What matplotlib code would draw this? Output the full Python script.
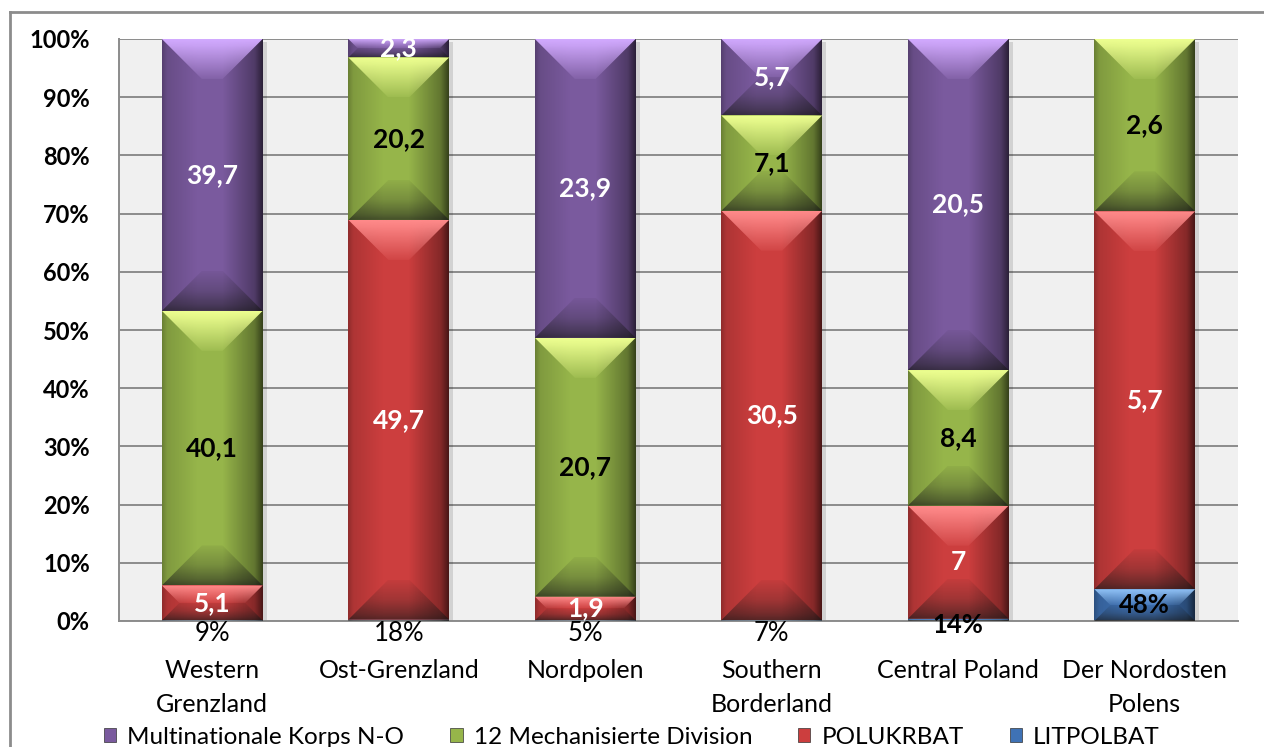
import numpy as np
import matplotlib.pyplot as plt
from matplotlib.patches import Polygon
from matplotlib.lines import Line2D
from matplotlib.colors import to_rgb

# categories and series (raw values, chart shows each bar as 100%)
categories = ["Western\nGrenzland", "Ost-Grenzland", "Nordpolen",
              "Southern\nBorderland", "Central Poland", "Der Nordosten\nPolens"]
litpolbat = [0.09, 0.18, 0.05, 0.07, 0.14, 0.48]
polukrbat = [5.1, 49.7, 1.9, 30.5, 7.0, 5.7]
mech_div = [40.1, 20.2, 20.7, 7.1, 8.4, 2.6]
mnc_no = [39.7, 2.3, 23.9, 5.7, 20.5, 0.0]
series_names = ["LITPOLBAT", "POLUKRBAT", "12 Mechanisierte Division", "Multinationale Korps N-O"]
y_ticks = [0, 10, 20, 30, 40, 50, 60, 70, 80, 90, 100]

series = [litpolbat, polukrbat, mech_div, mnc_no]
base_col = ["#3F72B5", "#CC3E3E", "#96B54A", "#7A5A9E"]
light_col = ["#8EC0F5", "#FF8A8A", "#EEFF90", "#D2AAFF"]
lbl_col = ["black", "white", "black", "white"]

plt.rcParams['font.family'] = ['Lato', 'DejaVu Sans']

fig = plt.figure(figsize=(12.64, 7.47), dpi=100)
fig.patch.set_facecolor("white")
ax = fig.add_axes([119/1264, 1-621/747, 1119/1264, 582/747])
ax.set_facecolor("#F0F0F0")

data = np.array(series, dtype=float)
totals = data.sum(axis=0)
pct = data / totals * 100
x = np.arange(len(categories))

ax.set_xlim(-0.5, len(categories) - 0.5)
ax.set_ylim(0, 100)

# pixel scale for bevels
p0 = ax.transData.transform((0, 0))
p1 = ax.transData.transform((1, 1))
px_x = p1[0] - p0[0]
px_y = p1[1] - p0[1]


def grad_image(poly, x0, x1, y0, y1, rgba, zorder):
    im = ax.imshow(rgba, extent=[x0, x1, y0, y1], aspect='auto',
                   interpolation='bilinear', zorder=zorder, origin='upper')
    poly.set_transform(ax.transData)
    im.set_clip_path(poly)


bottom = np.zeros(len(categories))
containers = []
for i, vals in enumerate(pct):
    bars = ax.bar(x, vals, 0.54, bottom=bottom, color=base_col[i],
                  edgecolor="none", zorder=2)
    containers.append(bars)
    for b in bars:
        h = b.get_height()
        if h <= 0:
            continue
        x0, y0 = b.get_x(), b.get_y()
        x1, y1 = x0 + b.get_width(), y0 + h
        # drop shadow
        sx, sy = 4 / px_x, 3 / px_y
        shadow = Polygon([(x0 + sx, y0 - sy), (x1 + sx, y0 - sy), (x1 + sx, y1 - sy), (x0 + sx, y1 - sy)],
                         closed=True, facecolor="#000000", alpha=0.12, edgecolor="none", zorder=1.5)
        ax.add_patch(shadow)
        # horizontal shading
        t = np.linspace(0, 1, 200)
        a = np.interp(t, [0, 0.05, 0.35, 0.6, 0.92, 1], [0.3, 0.15, 0, 0, 0.35, 0.65])
        img = np.zeros((1, 200, 4))
        img[..., 3] = a
        rect = Polygon([(x0, y0), (x1, y0), (x1, y1), (x0, y1)], closed=True)
        grad_image(rect, x0, x1, y0, y1, img, 3)
        # bevels
        d = min(40, h * px_y / 2, b.get_width() * px_x / 2)
        dx, dy = d / px_x, d / px_y
        top = Polygon([(x0, y1), (x1, y1), (x1 - dx, y1 - dy), (x0 + dx, y1 - dy)], closed=True)
        lc = to_rgb(light_col[i])
        timg = np.zeros((50, 1, 4))
        timg[..., :3] = lc
        timg[:, 0, 3] = np.interp(np.linspace(0, 1, 50), [0, 0.15, 1], [1.0, 0.9, 0.1])
        grad_image(top, x0, x1, y1 - dy, y1, timg, 4)
        bot = Polygon([(x0, y0), (x1, y0), (x1 - dx, y0 + dy), (x0 + dx, y0 + dy)], closed=True)
        bimg = np.zeros((50, 1, 4))
        bimg[..., :3] = 0.1
        bimg[:, 0, 3] = np.interp(np.linspace(0, 1, 50), [0, 0.5, 0.85, 1], [0.05, 0.25, 0.5, 0.65])
        grad_image(bot, x0, x1, y0, y0 + dy, bimg, 4)
    bottom = bottom + vals

# data labels
for i, (vals, raw) in enumerate(zip(pct, data)):
    for j, b in enumerate(containers[i]):
        v = raw[j]
        if v <= 0:
            continue
        cy = b.get_y() + b.get_height() / 2
        if i == 0:
            txt = f"{v * 100:.0f}%"
            if j < 4:
                cy = -2.1
            elif j == 4:
                cy = -0.7
            w = "bold" if j >= 4 else "normal"
            ax.text(b.get_x() + b.get_width() / 2, cy, txt, ha="center", va="center",
                    fontsize=18.5, color="black", fontweight=w, zorder=6, clip_on=False)
            continue
        txt = f"{v:g}".replace(".", ",")
        ax.text(b.get_x() + b.get_width() / 2, cy, txt, ha="center", va="center",
                fontsize=19, fontweight="bold", color=lbl_col[i], zorder=6)

ax.set_xlim(-0.5, len(categories) - 0.5)
ax.set_ylim(0, 100)
ax.set_yticks(y_ticks)
ax.set_yticklabels([f"{t}%" for t in y_ticks], fontsize=17, fontweight="bold")
ax.yaxis.grid(True, color="#8C8C8C", lw=1.4, zorder=1)
ax.set_axisbelow(True)
ax.tick_params(axis="y", length=0, pad=21)
ax.tick_params(axis="x", length=0, pad=27)
ax.set_xticks(x)
ax.set_xticklabels(categories, fontsize=18, linespacing=1.6)
for s in ["top", "right"]:
    ax.spines[s].set_visible(False)
for s in ["left", "bottom"]:
    ax.spines[s].set_color("#8C8C8C")
    ax.spines[s].set_linewidth(1.4)

# legend
handles = [plt.Rectangle((0, 0), 1, 1, facecolor=base_col[i], edgecolor="#333333", lw=0.5)
           for i in range(4)]
order = [3, 2, 1, 0]
leg = fig.legend([handles[k] for k in order], [series_names[k] for k in order],
                 loc="lower center", bbox_to_anchor=(0.5, -0.03), ncol=4, frameon=False,
                 fontsize=17.5, handlelength=0.5, handleheight=0.5, handletextpad=0.45,
                 columnspacing=1.9)

# outer frame
fig.add_artist(Line2D([10/1264, 10/1264], [0, 1 - 12/747], color="#8C8C8C", lw=2))
fig.add_artist(Line2D([10/1264, 1], [1 - 12/747, 1 - 12/747], color="#8C8C8C", lw=2))

fig.savefig("out.png", dpi=100)
